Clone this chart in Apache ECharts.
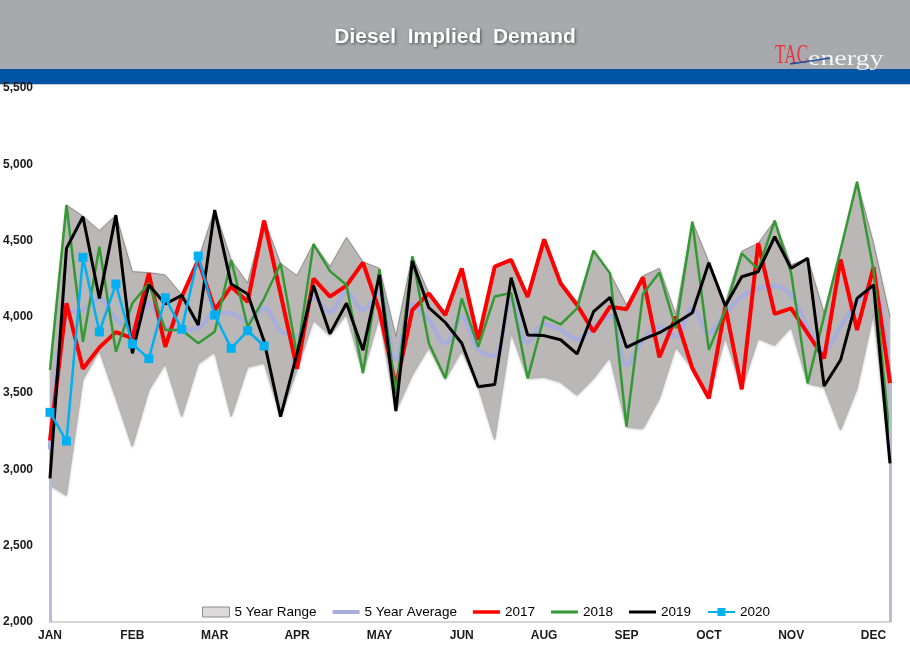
<!DOCTYPE html>
<html>
<head>
<meta charset="utf-8">
<script src="https://cdn.jsdelivr.net/npm/echarts@6/dist/echarts.min.js"></script>
<style>
html,body{margin:0;padding:0;background:#fff;}
#chart{width:910px;height:659px;}
</style>
</head>
<body>
<div id="chart"></div>
<script>
// ---- data ----
const weeks = [1,2,3,4,5,6,7,8,9,10,11,12,13,14,15,16,17,18,19,20,21,22,23,24,25,26,
               27,28,29,30,31,32,33,34,35,36,37,38,39,40,41,42,43,44,45,46,47,48,49,50,51,52];
const monthLabels = ['JAN','FEB','MAR','APR','MAY','JUN','AUG','SEP','OCT','NOV','DEC'];
const yTicks = [2000,2500,3000,3500,4000,4500,5000,5500];

const rangeLow = [2900,2830,3590,3780,3470,3149,3520,3695,3346,3695,3771,3346,3673,3700,3346,3652,
                  3979,3880,4020,3630,4000,3383,3620,3800,3590,3780,3542,3193,3900,3597,3608,3575,
                  3488,3597,3739,3280,3269,3466,3804,3663,3466,3870,3525,3859,3815,3935,3565,3540,
                  3258,3531,4023,3040];
const rangeHigh = [3652,4733,4660,4565,4667,4296,4290,4274,4145,4373,4700,4373,4220,4635,4350,4270,
                   4480,4330,4521,4360,4318,3870,4399,4154,4012,4318,3850,4329,4373,4132,4508,4220,
                   4087,4434,4285,4078,4268,4318,4012,4624,4360,4089,4430,4482,4630,4340,4384,4023,
                   4438,4886,4482,4001];
const avg5 = [3130,4023,4045,4121,3990,3914,4089,3935,3914,3925,4023,4023,3968,4060,3908,3870,
              4130,4030,4165,4045,4154,3720,4085,3979,3827,4001,3783,3745,4105,3830,3950,3915,
              3853,3935,4005,3684,3848,3935,3870,4056,3896,4023,4132,4187,4202,4143,3935,3783,
              3935,4099,4176,3565];
const y2017 = [3190,4090,3660,3800,3900,3860,4285,3804,4132,4373,4045,4198,4099,4630,4150,3660,
               4250,4132,4205,4355,4040,3545,4045,4154,4012,4318,3850,4329,4373,4130,4508,4220,
               4078,3903,4067,4050,4259,3735,4001,3663,3466,4067,3525,4482,4019,4056,3892,3728,
               4377,3914,4325,3565];
const y2018 = [3652,4733,3837,4460,3771,4089,4220,3914,3914,3827,3903,4373,3935,4120,4350,3750,
               4477,4300,4209,3632,4312,3495,4396,3827,3597,4121,3804,4134,4156,3597,4001,3950,
               4056,4434,4285,3280,4150,4290,3925,4624,3783,4045,4416,4311,4630,4285,3565,4005,
               4438,4886,4307,3193];
const y2019 = [2942,4449,4656,4121,4667,3761,4209,4084,4141,3946,4700,4215,4150,3840,3346,3760,
               4205,3890,4089,3781,4274,3383,4366,4060,3963,3827,3542,3556,4257,3881,3877,3850,
               3757,4034,4128,3800,3853,3896,3958,4027,4355,4071,4263,4296,4525,4318,4384,3547,
               3717,4121,4209,3040];
const y2020 = [3374,3186,4390,3901,4215,3822,3726,4125,3918,4399,4012,3794,3909,3809];

// ---- chart ----
const Y_MIN = yTicks[0], Y_MAX = yTicks[yTicks.length-1];
const rangeSpan = rangeHigh.map((h,i)=> h - rangeLow[i]);
const chart = echarts.init(document.getElementById('chart'), null, {renderer:'canvas'});

const FONT = 'Liberation Sans, Arial, sans-serif';
const C17 = '#ff0000', C18 = '#339a33', C19 = '#000000', C20 = '#00b0f0', CAVG = '#a8addb';

// thin-bar legend icon (tiny corner dots keep the bounding box at 27x10)
function barIcon(t) {
  const a = (10 - t) / 2, b = a + t;
  return 'path://M0,0H0.01V0.01H0Z M0,' + a + 'H27V' + b + 'H0Z M26.99,9.99H27V10H26.99Z';
}

const option = {
  animation: false,
  backgroundColor: '#ffffff',
  title: {
    text: 'Diesel  Implied  Demand',
    left: 'center',
    top: 22,
    textStyle: {
      color: '#ffffff', fontSize: 21, fontWeight: 'bold', fontFamily: FONT,
      textShadowColor: 'rgba(0,0,0,0.55)', textShadowBlur: 3,
      textShadowOffsetX: 1, textShadowOffsetY: 1
    }
  },
  graphic: [
    { type:'rect', z:-10, shape:{x:0,y:0,width:910,height:69}, style:{fill:'#a7a9ac'} },
    { type:'rect', z:-10, shape:{x:0,y:69,width:910,height:15}, style:{fill:'#0254a5'} },
    { type:'rect', z:-10, shape:{x:0,y:84,width:910,height:1}, style:{fill:'#c9ccd2'} },
    { type:'text', z:10, x:775, y:69, scaleX:0.64, scaleY:1,
      style:{text:'TAC', x:0, y:0, fill:'#e2373f',
        font:'27px "Liberation Serif", serif', textVerticalAlign:'bottom'} },
    { type:'text', z:10, x:808, y:70, scaleX:1.33, scaleY:1,
      style:{text:'energy', x:0, y:0, fill:'#f4f4f4',
        font:'21px "Liberation Serif", serif', textVerticalAlign:'bottom'} },
    { type:'line', z:11, shape:{x1:790,y1:64,x2:830,y2:58}, style:{stroke:'#1d4f9e', lineWidth:1.5} }
  ],
  grid: { left: 50, right: 20, top: 88, bottom: 37, containLabel: false },
  legend: {
    left: 197, top: 600,
    itemWidth: 27, itemHeight: 10, itemGap: 16,
    textStyle: { fontSize: 13.5, fontFamily: FONT, color: '#000' },
    data: [
      { name:'5 Year Range', icon:'rect', itemStyle:{color:'#dcdada', borderColor:'#8a8a8a', borderWidth:1} },
      { name:'5 Year Average', icon: barIcon(4), itemStyle:{color:CAVG} },
      { name:'2017', icon: barIcon(3.5), itemStyle:{color:C17} },
      { name:'2018', icon: barIcon(3), itemStyle:{color:C18} },
      { name:'2019', icon: barIcon(3), itemStyle:{color:C19} },
      '2020'
    ]
  },
  xAxis: {
    type: 'category',
    data: weeks,
    boundaryGap: false,
    axisTick: { show: false },
    axisLine: { lineStyle: { color: '#d6d6d6', width: 2 } },
    axisLabel: {
      interval: (i) => i % 5 === 0,
      formatter: (v, i) => monthLabels[i/5] || '',
      margin: 8,
      fontSize: 12, fontWeight: 'bold', fontFamily: FONT, color: '#1a1a1a'
    },
    splitLine: { show: false }
  },
  yAxis: {
    type: 'value',
    min: Y_MIN, max: Y_MAX, interval: 500,
    axisLine: { show: false },
    axisTick: { show: false },
    splitLine: { show: false },
    axisLabel: {
      align: 'left', margin: 47,
      formatter: (v) => v.toLocaleString('en-US'),
      fontSize: 12, fontWeight: 'bold', fontFamily: FONT, color: '#1a1a1a'
    }
  },
  series: [
    { name:'rangeBase', type:'line', stack:'range', data: rangeLow, symbol:'none',
      lineStyle:{ width:0.8, color:'#b0acac' }, silent:true, z:1 },
    { name:'5 Year Range', type:'line', stack:'range', data: rangeSpan, symbol:'none',
      lineStyle:{ width:1, color:'#8f8b8b' },
      areaStyle:{ color:'#bbb7b7', opacity:1, shadowBlur:3, shadowColor:'rgba(0,0,0,0.35)', shadowOffsetY:1 },
      itemStyle:{ color:'#dcdada' }, silent:true, z:1 },
    { name:'5 Year Average', type:'line', data: avg5, symbol:'none', smooth:0.35,
      lineStyle:{ width:4.5, color:CAVG }, itemStyle:{ color:CAVG }, z:2,
      markLine: {
        silent:true, symbol:['none','none'], label:{show:false},
        lineStyle:{ color:'#b9bbdc', width:3, type:'solid' },
        data: [
          [ {coord:[0, Y_MIN]}, {coord:[0, avg5[0]]} ],
          [ {coord:[weeks.length-1, Y_MIN]}, {coord:[weeks.length-1, avg5[avg5.length-1]]} ]
        ]
      }
    },
    { name:'2017', type:'line', data: y2017, symbol:'none',
      lineStyle:{ width:4, color:C17 }, itemStyle:{ color:C17 }, z:3 },
    { name:'2018', type:'line', data: y2018, symbol:'none',
      lineStyle:{ width:2.5, color:C18 }, itemStyle:{ color:C18 }, z:4 },
    { name:'2019', type:'line', data: y2019, symbol:'none',
      lineStyle:{ width:3, color:C19 }, itemStyle:{ color:C19 }, z:5 },
    { name:'2020', type:'line', data: y2020, symbol:'rect', symbolSize:9, showSymbol:true,
      lineStyle:{ width:2.5, color:C20 }, itemStyle:{ color:C20 }, z:6 }
  ]
};
chart.setOption(option);
</script>
</body>
</html>
